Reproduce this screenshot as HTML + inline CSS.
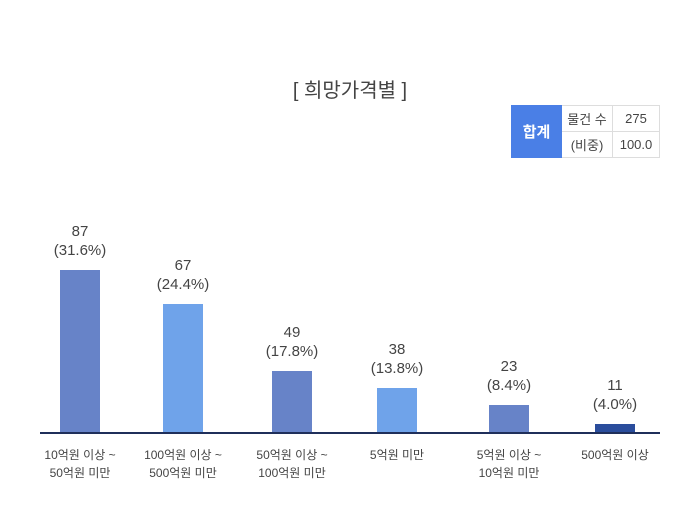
<!DOCTYPE html><html><head><meta charset="utf-8"><style>
body{margin:0;width:700px;height:510px;background:#fff;font-family:"Liberation Sans","Noto Sans CJK KR",sans-serif;color:#444;position:relative;overflow:hidden}
.a{position:absolute}
.t{left:0;width:700px;top:74px;text-align:center;font-size:20px;color:#444}
.bar{position:absolute;width:40px}
.v{position:absolute;width:120px;text-align:center;font-size:15px;line-height:19px;color:#444}
.l{position:absolute;width:130px;text-align:center;font-size:12px;line-height:18px;color:#444}
td{border:1px solid #ddd;font-size:13px;text-align:center;padding:0;height:25px;color:#444}
</style></head><body>
<div class="a t">[ 희망가격별 ]</div>
<table class="a" style="left:511px;top:105px;border-collapse:collapse">
<tr><td rowspan="2" style="background:#4a7fe6;color:#fff;width:49px;font-size:15px;font-weight:bold;border-color:#4a7fe6">합계</td><td style="width:50px">물건 수</td><td style="width:46px">275</td></tr>
<tr><td>(비중)</td><td>100.0</td></tr></table>
<div class="bar" style="left:60px;top:270px;height:163px;background:#6783c8"></div>
<div class="bar" style="left:163px;top:304px;height:129px;background:#6fa3ea"></div>
<div class="bar" style="left:272px;top:371px;height:62px;background:#6783c8"></div>
<div class="bar" style="left:377px;top:388px;height:45px;background:#6fa3ea"></div>
<div class="bar" style="left:489px;top:405px;height:28px;background:#6783c8"></div>
<div class="bar" style="left:595px;top:424px;height:9px;background:#2a4d9c"></div>
<div class="a" style="left:40px;top:432px;width:620px;height:2px;background:#1f2f5a"></div>
<div class="v" style="left:20px;top:222px">87<br>(31.6%)</div>
<div class="v" style="left:123px;top:256px">67<br>(24.4%)</div>
<div class="v" style="left:232px;top:323px">49<br>(17.8%)</div>
<div class="v" style="left:337px;top:340px">38<br>(13.8%)</div>
<div class="v" style="left:449px;top:357px">23<br>(8.4%)</div>
<div class="v" style="left:555px;top:376px">11<br>(4.0%)</div>
<div class="l" style="left:15px;top:446px">10억원 이상 ~<br>50억원 미만</div>
<div class="l" style="left:118px;top:446px">100억원 이상 ~<br>500억원 미만</div>
<div class="l" style="left:227px;top:446px">50억원 이상 ~<br>100억원 미만</div>
<div class="l" style="left:332px;top:446px">5억원 미만</div>
<div class="l" style="left:444px;top:446px">5억원 이상 ~<br>10억원 미만</div>
<div class="l" style="left:550px;top:446px">500억원 이상</div>
</body></html>
